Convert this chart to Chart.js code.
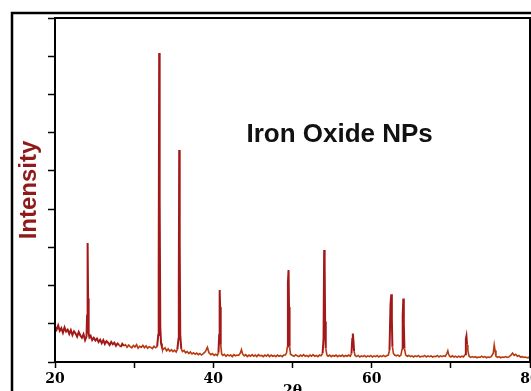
<!DOCTYPE html>
<html><head><meta charset="utf-8">
<script src="https://cdn.jsdelivr.net/npm/chart.js@4.4.1/dist/chart.umd.min.js"></script>
<style>html,body{margin:0;padding:0;background:#fff;overflow:hidden}</style>
</head><body>
<canvas id="c" width="531" height="391"></canvas>
<script>
// 2θ positions (degrees)
const twoTheta = [
  20.0,20.2,20.4,20.6,20.8,21.0,21.2,21.4,21.6,21.8,
  22.0,22.2,22.4,22.6,22.8,23.0,23.2,23.4,23.6,23.8,
  23.98,24.05,24.12,24.18,24.25,24.35,24.5,24.7,24.9,25.1,
  25.3,25.5,25.7,25.9,26.1,26.3,26.5,26.7,26.9,27.1,
  27.3,27.5,27.7,27.9,28.1,28.3,28.5,28.7,28.9,29.1,
  29.3,29.5,29.7,29.9,30.1,30.3,30.5,30.7,30.9,31.1,
  31.3,31.5,31.7,31.9,32.1,32.3,32.5,32.7,32.9,33.04,
  33.1,33.16,33.22,33.3,33.4,33.5,33.7,33.9,34.1,34.3,
  34.5,34.7,34.9,35.1,35.3,35.45,35.6,35.64,35.69,35.75,
  35.82,35.95,36.1,36.3,36.5,36.7,36.9,37.1,37.3,37.5,
  37.7,37.9,38.1,38.3,38.5,38.7,39.0,39.25,39.45,39.7,
  39.9,40.1,40.3,40.5,40.65,40.74,40.8,40.86,40.93,41.05,
  41.2,41.4,41.6,41.8,42.0,42.2,42.4,42.6,42.8,43.0,
  43.2,43.4,43.55,43.7,43.9,44.1,44.3,44.5,44.7,44.9,
  45.1,45.3,45.5,45.7,45.9,46.1,46.3,46.5,46.7,46.9,
  47.1,47.3,47.5,47.7,47.9,48.1,48.3,48.5,48.7,48.9,
  49.1,49.25,49.35,49.42,49.5,49.56,49.63,49.75,50.0,50.2,
  50.4,50.6,50.8,51.0,51.2,51.4,51.6,51.8,52.0,52.2,
  52.4,52.6,52.8,53.0,53.2,53.4,53.6,53.8,53.92,54.0,
  54.06,54.12,54.2,54.35,54.5,54.7,54.9,55.1,55.3,55.5,
  55.7,55.9,56.1,56.3,56.5,56.7,56.9,57.1,57.3,57.45,
  57.55,57.62,57.7,57.78,57.9,58.1,58.3,58.5,58.7,58.9,
  59.1,59.3,59.5,59.7,59.9,60.1,60.3,60.5,60.7,60.9,
  61.1,61.3,61.5,61.7,61.9,62.1,62.25,62.38,62.48,62.55,
  62.62,62.75,62.9,63.1,63.3,63.5,63.7,63.85,63.92,64.0,
  64.06,64.14,64.3,64.5,64.7,64.9,65.1,65.3,65.5,65.7,
  65.9,66.1,66.3,66.5,66.7,66.9,67.1,67.3,67.5,67.7,
  67.9,68.1,68.3,68.5,68.7,68.9,69.1,69.3,69.5,69.62,
  69.72,69.85,70.0,70.2,70.4,70.6,70.8,71.0,71.2,71.4,
  71.6,71.8,71.9,71.97,72.05,72.15,72.3,72.5,72.7,72.9,
  73.1,73.3,73.5,73.7,73.9,74.1,74.3,74.5,74.7,74.9,
  75.1,75.35,75.48,75.58,75.7,75.9,76.1,76.3,76.5,76.7,
  76.9,77.1,77.3,77.6,77.8,78.0,78.2,78.4,78.6,78.8,
  79.0,79.2,79.4,79.6,79.8,80.0
];
// intensity (arbitrary units) at each 2θ
const intensity = [
  92,84,95,81,88,76,90,79,84,73,
  83,70,80,74,66,78,69,63,72,57,
  66,120,309,165,75,64,68,57,63,56,
  61,52,58,49,57,47,54,50,44,52,
  46,50,42,48,44,39,47,42,45,38,
  44,40,37,43,39,45,36,41,38,43,
  37,42,36,40,38,35,41,37,40,70,
  230,803,420,90,48,40,33,37,29,34,
  28,32,27,31,26,32,60,195,551,312,
  70,34,27,30,24,27,22,26,21,24,
  20,23,19,22,18,21,27,38,24,19,
  22,17,20,17,24,70,187,143,45,21,
  17,20,15,19,16,18,14,19,16,18,
  17,23,32,21,16,19,14,18,15,19,
  15,18,14,19,16,17,14,18,15,19,
  14,18,15,17,14,18,15,17,14,18,
  18,24,40,205,239,143,40,20,17,15,
  19,16,14,18,15,19,15,17,14,18,
  15,19,15,17,14,18,16,22,60,291,
  252,105,35,18,15,18,14,17,15,18,
  14,17,15,18,14,17,15,18,15,22,
  60,74,55,28,17,14,17,13,16,14,
  17,13,16,14,17,13,16,14,17,13,
  16,14,17,14,16,18,30,150,176,110,
  40,22,18,16,18,15,18,35,120,165,
  100,35,18,15,17,14,16,13,16,14,
  17,13,15,14,17,13,16,14,16,13,
  15,14,17,13,16,14,16,15,22,29,
  20,15,13,16,13,15,12,15,13,15,
  13,20,60,67,45,30,15,12,14,12,
  14,11,13,12,15,12,14,11,13,12,
  14,22,44,30,15,12,14,11,13,12,
  14,12,13,18,23,17,20,15,17,13,
  14,12,13,11,12,11
];
const xTickValues = [20,30,40,50,60,70,80];
const xTickLabels = ['20','','40','','60','','80'];
const chartTitle = 'Iron Oxide NPs';
const xTitle = '2θ';
const yTitle = 'Intensity';

const points = twoTheta.map((x, i) => ({x, y: intensity[i]}));

const decor = {
  id: 'decor',
  beforeDraw(chart) {
    const ctx = chart.ctx;
    ctx.save();
    ctx.fillStyle = '#fff';
    ctx.fillRect(0, 0, chart.width, chart.height);
    ctx.strokeStyle = '#000';
    ctx.lineWidth = 2.5;
    ctx.beginPath();
    ctx.moveTo(12, chart.height + 5);
    ctx.lineTo(12, 13);
    ctx.lineTo(chart.width + 5, 13);
    ctx.stroke();
    ctx.restore();
  },
  afterDatasetsDraw(chart) {
    const {ctx, chartArea: a, scales} = chart;
    ctx.save();
    ctx.strokeStyle = '#000';
    ctx.lineWidth = 2;
    ctx.strokeRect(a.left, a.top, a.right - a.left, a.bottom - a.top);
    ctx.font = 'bold 26px "Liberation Sans", Arial, sans-serif';
    ctx.fillStyle = '#111';
    ctx.textAlign = 'center';
    ctx.textBaseline = 'middle';
    ctx.fillText(chartTitle, scales.x.getPixelForValue(55.95), scales.y.getPixelForValue(590));
    ctx.restore();
  }
};

const isPeak = c => Math.max(c.p0.parsed.y, c.p1.parsed.y) > 45;

new Chart(document.getElementById('c'), {
  type: 'line',
  data: {
    datasets: [{
      data: points,
      borderColor: '#b8390c',
      borderWidth: 1.6,
      pointRadius: 0,
      tension: 0,
      fill: false,
      segment: {
        borderColor: c => isPeak(c) ? '#a31818' : '#b8390c',
        borderWidth: c => isPeak(c) ? 2 : 1.6
      }
    }]
  },
  options: {
    responsive: false,
    animation: false,
    events: [],
    layout: { padding: { top: 18, right: 1, left: 0, bottom: 0 } },
    plugins: { legend: { display: false }, tooltip: { enabled: false }, title: { display: false } },
    scales: {
      x: {
        type: 'linear',
        min: 20, max: 80,
        afterBuildTicks: s => { s.ticks = xTickValues.map(v => ({value: v})); },
        afterFit: s => { s.height = 29; s.paddingLeft = 0; s.paddingRight = 0; },
        ticks: {
          callback: (v, i) => xTickLabels[i],
          autoSkip: false, maxRotation: 0, padding: 3,
          color: '#000',
          font: { family: '"DejaVu Serif", serif', size: 14, weight: 'bold' }
        },
        grid: { drawOnChartArea: false, drawTicks: true, tickLength: 6, tickColor: '#000', tickWidth: 1.5 },
        border: { display: true, color: '#000', width: 2 },
        title: {
          display: true, text: xTitle, color: '#000',
          font: { family: '"DejaVu Serif", serif', size: 14, weight: 'bold' },
          padding: { top: 0, bottom: -9 }
        }
      },
      y: {
        min: 0, max: 894,
        ticks: { stepSize: 100, display: false },
        afterFit: s => { s.width = 55; s.paddingTop = 0; s.paddingBottom = 0; },
        grid: { drawOnChartArea: false, drawTicks: true, tickLength: 7, tickColor: '#000', tickWidth: 1.5 },
        border: { display: true, color: '#000', width: 2 },
        title: {
          display: true, text: yTitle, color: '#8f1a1a',
          font: { family: '"Liberation Sans", Arial, sans-serif', size: 24, weight: 'bold' },
          padding: { top: 15, bottom: 0 }
        }
      }
    }
  },
  plugins: [decor]
});
</script>
</body></html>
